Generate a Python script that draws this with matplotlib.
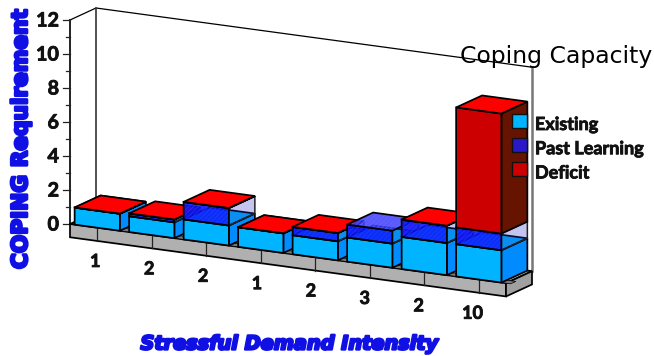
import matplotlib
matplotlib.use("Agg")
import matplotlib.pyplot as plt
from matplotlib.colors import to_rgba
from matplotlib.patches import Polygon, Patch, Rectangle
import matplotlib.patheffects as pe

demand_labels = ["1", "2", "2", "1", "2", "3", "2", "10"]
existing = [1.0, 0.93, 1.18, 1.15, 1.12, 1.42, 1.89, 1.90]
past_learning = [0.0, 0.16, 1.02, 0.0, 0.48, 0.76, 1.01, 0.98]
deficit = [0.01, 0.01, 0.01, 0.01, 0.01, 0.0, 0.01, 7.06]
series_names = ["Existing", "Past Learning", "Deficit"]
y_ticks = [0, 2, 4, 6, 8, 10, 12]

plt.rcParams["font.family"] = "Lato"
plt.rcParams["hatch.linewidth"] = 0.35
fig = plt.figure(figsize=(6.54, 3.56), dpi=100)
ax = fig.add_axes([0, 0, 1, 1])
ax.set_xlim(0, 654)
ax.set_ylim(356, 0)
ax.axis("off")

ORIGIN = (70.0, 224.0)
CAT = (54.5, 7.4)
DEPTH = (26.0, -12.0)
UNIT = 17.0
INK = "#111111"
BLUE_TXT = "#1010e4"
HEAVY = [pe.withStroke(linewidth=0.6, foreground=INK)]


def P(c, v, d=0.0):
    return (ORIGIN[0] + c * CAT[0] + d * DEPTH[0],
            ORIGIN[1] + c * CAT[1] + d * DEPTH[1] - v * UNIT)


def poly(pts, face, edge="black", lw=1.25, z=2, alpha=1.0, hatch=None, hatch_color="#1a44ff", clip=None):
    if hatch:
        ax.add_patch(Polygon(pts, closed=True, facecolor=to_rgba(face, alpha), edgecolor=hatch_color,
                             linewidth=0, zorder=z, hatch=hatch))
        ax.add_patch(Polygon(pts, closed=True, fill=False, edgecolor=edge, linewidth=lw, zorder=z,
                             joinstyle="miter"))
    else:
        patch = Polygon(pts, closed=True, facecolor=to_rgba(face, alpha), edgecolor=edge,
                        linewidth=lw, zorder=z, joinstyle="miter")
        ax.add_patch(patch)
        if clip is not None:
            patch.set_clip_path(Polygon(clip, closed=True, transform=ax.transData))


n = len(demand_labels)
# walls
ax.plot(*zip(P(0, 12), P(0, 12, 1), P(n, 12, 1)), color="black", lw=0.9, zorder=1)
ax.plot(*zip(P(0, 0, 1), P(0, 12, 1)), color="#333333", lw=1.2, zorder=1)
ax.plot(*zip(P(n, 0, 1), P(n, 12, 1)), color="#777777", lw=1.8, zorder=1)
ax.plot(*zip(P(0, 0), P(0, 12)), color="#222222", lw=1.4, zorder=1)
for t in range(0, 13):
    a = P(0, t)
    ax.plot([a[0] - 7 if t % 2 == 0 else a[0] - 4, a[0]], [a[1], a[1]], color="#222222", lw=0.9, zorder=1)
for t in y_ticks:
    a = P(0, t)
    ax.text(a[0] - 11, a[1] + 0.5, str(t), ha="right", va="center", fontsize=14.2, fontweight="bold",
            color=INK, path_effects=HEAVY)

# floor slab
SLAB = 0.78
poly([P(0, 0), P(n, 0), P(n, -SLAB), P(0, -SLAB)], "#b0b0b0", z=1.5)
poly([P(n, 0), P(n, 0, 1), P(n, -SLAB, 1), P(n, -SLAB)], "#a0a0a0", z=1.5)
poly([P(0, 0), P(n, 0), P(n, 0, 1), P(0, 0, 1)], "#b8b8b8", z=1.4)
for i in range(n):
    a, b = P(i + 0.5, 0), P(i + 0.5, -SLAB)
    ax.plot([a[0], b[0]], [a[1], b[1]], color="#222222", lw=0.9, zorder=1.6)
    lab = P(i + 0.5, -SLAB)
    ax.text(lab[0] - 2 - 0.6 * i, lab[1] + 20.5, demand_labels[i], ha="center", va="center",
            fontsize=13, fontweight="bold", color=INK, zorder=3, path_effects=HEAVY)

OFF, WID = 0.085, 0.83


def block(c, v0, v1, front, side, top, z):
    L, R = c + OFF, c + OFF + WID
    poly([P(R, v0), P(R, v0, 1), P(R, v1, 1), P(R, v1)], side, z=z)
    poly([P(L, v0), P(R, v0), P(R, v1), P(L, v1)], front, z=z)
    if top is not None:
        poly([P(L, v1), P(R, v1), P(R, v1, 1), P(L, v1, 1)], top, z=z + 0.01)


def glass(c, v0, v1, show_top, z):
    L, R = c + OFF, c + OFF + WID
    fr = [P(L, v0), P(R, v0), P(R, v1), P(L, v1)]
    poly([P(L, v0, 1), P(R, v0, 1), P(R, v1, 1), P(L, v1, 1)], "#2828c8", z=z, alpha=0.5, edge="none", lw=0, clip=fr)
    poly([P(L, v0), P(L, v0, 1), P(L, v1, 1), P(L, v1)], "#2828c8", z=z, alpha=0.5, edge="none", lw=0, clip=fr)
    poly([P(R, v0), P(R, v0, 1), P(R, v1, 1), P(R, v1)], "#2828c8", z=z + 0.001, alpha=0.27, lw=1.1, edge="#222222")
    poly(fr, "#1010f8", z=z + 0.002, alpha=0.82, hatch="///////")
    if show_top:
        poly([P(L, v1), P(R, v1), P(R, v1, 1), P(L, v1, 1)], "#3c3cff", z=z + 0.003, alpha=0.85,
             hatch="///////", hatch_color="#6a6aff")


for i in range(n):
    z = 2 + i * 0.1
    e, p, d = existing[i], past_learning[i], deficit[i]
    poly([P(i + OFF + WID, 0), P(i + 1 + OFF, 0), P(i + 1 + OFF, 0, 0.2), P(i + OFF + WID, 0, 0.2)],
         "#777777", lw=0.5, z=z - 0.01)
    block(i, 0, e, "#00b4ff", "#008cff", "#00b4ff", z)
    if p > 0:
        glass(i, e, e + p, d == 0, z + 0.02)
    if d > 0:
        block(i, e + p, e + p + d, "#cc0000", "#661400", "#ff0000", z + 0.04)

leg = ax.legend(handles=[Patch(facecolor=c, edgecolor=INK, linewidth=1.0, label=l)
                         for c, l in zip(["#00b4ff", "#2a18c8", "#cc0000"], series_names)],
                loc="upper left", bbox_to_anchor=(512 / 654, 1 - 113 / 356), frameon=False,
                fontsize=13, handlelength=0.85, handleheight=0.85, handletextpad=0.42,
                labelspacing=0.4, borderaxespad=0, borderpad=0)
leg.set_zorder(5)
for t in leg.get_texts():
    t.set_fontweight("bold")
    t.set_color(INK)
    t.set_path_effects(HEAVY)
    t.set_position((0, -3))

ax.text(652, 57, "Coping Capacity", ha="right", va="center", fontsize=16.9, family="DejaVu Sans", color="black", zorder=6)
ytitle = ax.text(21, 139, "COPING Requirement", rotation=90, ha="center", va="center", fontsize=15.6,
                 family="DejaVu Sans", fontweight="bold", color=BLUE_TXT,
                 path_effects=[pe.withStroke(linewidth=1.9, foreground=BLUE_TXT)])
ytitle.set_clip_path(Rectangle((0, 7), 654, 349, transform=ax.transData))
ax.text(289, 344, "Stressful Demand Intensity", ha="center", va="center", fontsize=13.9,
        family="DejaVu Sans", fontweight="bold", fontstyle="italic", color=BLUE_TXT,
        path_effects=[pe.withStroke(linewidth=1.7, foreground=BLUE_TXT)])

fig.savefig("out.png", dpi=100)
